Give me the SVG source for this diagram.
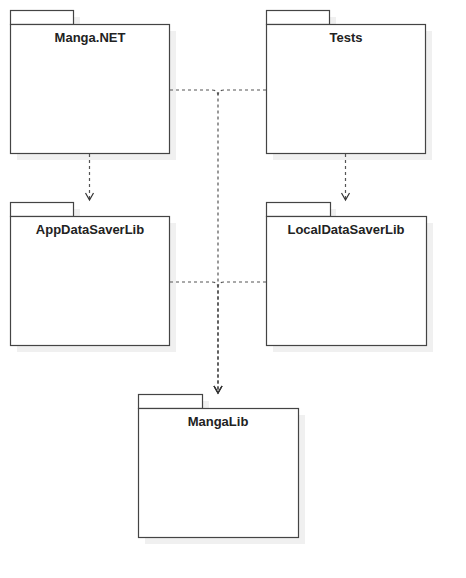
<svg xmlns="http://www.w3.org/2000/svg" width="466" height="578" viewBox="0 0 466 578">
<style>
.sh{fill:#f0f0f0;stroke:none}
.pk{fill:#fff;stroke:#444;stroke-width:1.2}
.t{font-family:"Liberation Sans",Arial,sans-serif;font-size:13px;font-weight:bold;fill:#222;text-anchor:middle}
.c{fill:none;stroke:#555;stroke-width:1.2;stroke-dasharray:3,3}
</style>
<defs>
<marker id="a" markerWidth="10" markerHeight="10" refX="8" refY="5" orient="auto" markerUnits="userSpaceOnUse">
<path d="M1,1 L8,5 L1,9" fill="none" stroke="#333" stroke-width="1.2"/>
</marker>
</defs>
<rect width="466" height="578" fill="#fff"/>
<g id="manga-net">
<rect class="sh" x="17" y="17" width="63" height="14"/>
<rect class="sh" x="17" y="31" width="159" height="129"/>
<rect class="pk" x="10.5" y="10.5" width="63" height="14"/>
<rect class="pk" x="10.5" y="24.5" width="159" height="129"/>
<text class="t" x="90" y="42">Manga.NET</text>
</g>
<g id="tests">
<rect class="sh" x="273" y="17" width="63" height="14"/>
<rect class="sh" x="273" y="31" width="159" height="129"/>
<rect class="pk" x="266.5" y="10.5" width="63" height="14"/>
<rect class="pk" x="266.5" y="24.5" width="159" height="129"/>
<text class="t" x="346" y="42">Tests</text>
</g>
<g id="appdatasaverlib">
<rect class="sh" x="17" y="209" width="63" height="14"/>
<rect class="sh" x="17" y="223" width="159" height="129"/>
<rect class="pk" x="10.5" y="202.5" width="63" height="14"/>
<rect class="pk" x="10.5" y="216.5" width="159" height="129"/>
<text class="t" x="90" y="234">AppDataSaverLib</text>
</g>
<g id="localdatasaverlib">
<rect class="sh" x="273" y="209" width="63" height="14"/>
<rect class="sh" x="273" y="223" width="160" height="129"/>
<rect class="pk" x="266.5" y="202.5" width="64" height="14"/>
<rect class="pk" x="266.5" y="216.5" width="160" height="129"/>
<text class="t" x="346" y="234">LocalDataSaverLib</text>
</g>
<g id="mangalib">
<rect class="sh" x="145" y="401" width="64" height="14"/>
<rect class="sh" x="145" y="415" width="160" height="129"/>
<rect class="pk" x="138.5" y="394.5" width="64" height="14"/>
<rect class="pk" x="138.5" y="408.5" width="160" height="129"/>
<text class="t" x="218" y="426">MangaLib</text>
</g>
<g id="connectors">
<path class="c" d="M170,90 H212 Q218,90 218,96 V393" marker-end="url(#a)"/>
<path class="c" d="M266,90 H224 Q218,90 218,96"/>
<path class="c" d="M170,282 H212 Q218,282 218,288 V393" marker-end="url(#a)"/>
<path class="c" d="M266,282 H224 Q218,282 218,288 V393" marker-end="url(#a)"/>
<path class="c" d="M89.5,154 V200" marker-end="url(#a)"/>
<path class="c" d="M345.5,154 V200" marker-end="url(#a)"/>
</g>
</svg>
